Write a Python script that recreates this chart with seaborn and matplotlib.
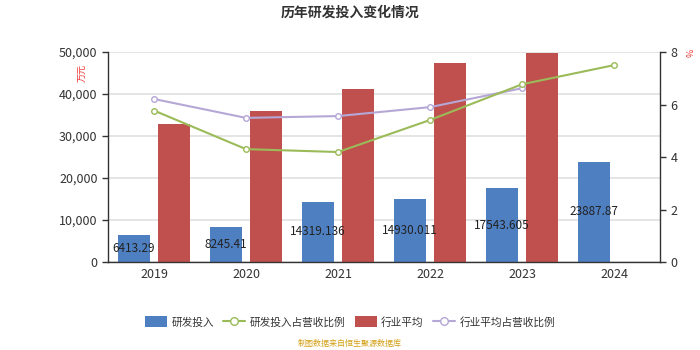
import matplotlib
matplotlib.use("Agg")
import matplotlib.pyplot as plt
import seaborn as sns
import pandas as pd
import numpy as np
from matplotlib.lines import Line2D
from matplotlib.patches import Patch
from matplotlib.ticker import FuncFormatter, MultipleLocator, FixedLocator

years = ["2019", "2020", "2021", "2022", "2023", "2024"]
rd_spend = [6413.29, 8245.41, 14319.136, 14930.011, 17543.605, 23887.87]
industry_avg = [32900, 36000, 41200, 47400, 49800, np.nan]
rd_ratio = [5.77, 4.30, 4.19, 5.41, 6.77, 7.50]
industry_ratio = [6.21, 5.49, 5.56, 5.90, 6.62, np.nan]

series_names = ["研发投入", "研发投入占营收比例", "行业平均", "行业平均占营收比例"]
blue, green, red, purple = "#4e7fc1", "#9bbb59", "#c0504d", "#b5a7d6"
text_c = "#333333"

sns.set_theme(style="white")
plt.rcParams["font.family"] = ["Noto Sans CJK SC", "DejaVu Sans"]

bars = pd.DataFrame({
    "year": years * 2,
    "value": rd_spend + industry_avg,
    "series": [series_names[0]] * len(years) + [series_names[2]] * len(years),
})

fig = plt.figure(figsize=(7, 3.5), dpi=100)
ax = fig.add_axes([0.1543, 0.2514, 0.7886, 0.6])

sns.barplot(data=bars, x="year", y="value", hue="series",
            palette=[blue, red], width=0.88, gap=0.2,
            saturation=1, legend=False, ax=ax, zorder=2)
for p in ax.patches:
    p.set_edgecolor("none")

ax.set_xlim(-0.5, len(years) - 0.5)
ax.set_ylim(0, 50000)
ax.yaxis.set_major_locator(MultipleLocator(10000))
ax.yaxis.set_major_formatter(FuncFormatter(lambda v, _: f"{int(v):,}"))
ax.grid(axis="y", color="#e3e3e3", linewidth=1.3, zorder=0)
ax.set_axisbelow(True)
ax.set_xlabel("")
ax.set_ylabel("")

# value labels centred inside the R&D bars
for i, v in enumerate(rd_spend):
    ax.text(i - 0.22, v / 2, str(v), ha="center", va="center",
            fontsize=8.5, color="#222222", zorder=5)

ax.xaxis.set_minor_locator(FixedLocator(np.arange(-0.5, len(years), 1)))
ax.tick_params(axis="x", which="major", length=0, labelsize=9, labelcolor=text_c, pad=4)
ax.tick_params(axis="x", which="minor", length=4, color="#333333", width=1)
ax.tick_params(axis="y", length=4, color="#333333", width=1, labelsize=9,
               labelcolor=text_c, left=True)

for side in ["left", "bottom"]:
    ax.spines[side].set_color("#333333")
    ax.spines[side].set_linewidth(1)
ax.spines["top"].set_visible(False)
ax.spines["right"].set_visible(False)

ax2 = ax.twinx()
x_idx = np.arange(len(years))
sns.lineplot(x=x_idx, y=industry_ratio, ax=ax2, color=purple, linewidth=1.5,
             marker="o", markersize=4, markerfacecolor="white",
             markeredgecolor=purple, markeredgewidth=1, zorder=3)
sns.lineplot(x=x_idx, y=rd_ratio, ax=ax2, color=green, linewidth=1.5,
             marker="o", markersize=4, markerfacecolor="white",
             markeredgecolor=green, markeredgewidth=1, zorder=4)
ax2.set_ylim(0, 8)
ax2.set_xlim(-0.5, len(years) - 0.5)
ax2.yaxis.set_major_locator(MultipleLocator(2))
ax2.tick_params(axis="y", length=4, color="#333333", width=1, labelsize=9,
                labelcolor=text_c, right=True)
ax2.set_ylabel("")
for side in ["top", "left", "bottom"]:
    ax2.spines[side].set_visible(False)
ax2.spines["right"].set_color("#333333")
ax2.spines["right"].set_linewidth(1)

fig.text(0.119, 0.79, "万元", color="#ee3333", fontsize=6.5, rotation=90,
         ha="center", va="center")
fig.text(0.988, 0.85, "%", color="#ee3333", fontsize=6.5, rotation=90,
         ha="center", va="center")

fig.text(0.5, 0.963, "历年研发投入变化情况", ha="center", va="center",
         fontsize=10, fontweight="bold", color=text_c)

handles = [
    Patch(facecolor=blue, edgecolor="none"),
    Line2D([0], [0], color=green, lw=1.5, marker="o", markersize=5.5,
           markerfacecolor="white", markeredgecolor=green),
    Patch(facecolor=red, edgecolor="none"),
    Line2D([0], [0], color=purple, lw=1.5, marker="o", markersize=5.5,
           markerfacecolor="white", markeredgecolor=purple),
]
fig.legend(handles, series_names, loc="center", bbox_to_anchor=(0.5, 0.08),
           ncol=4, frameon=False, fontsize=7.7, labelcolor=text_c,
           handlelength=2.05, handleheight=1.2, columnspacing=0.9,
           handletextpad=0.4)

fig.text(0.5, 0.02, "制图数据来自恒生聚源数据库", ha="center", va="center",
         fontsize=5.8, color="#d4a017")

fig.savefig("out.png", dpi=100)
